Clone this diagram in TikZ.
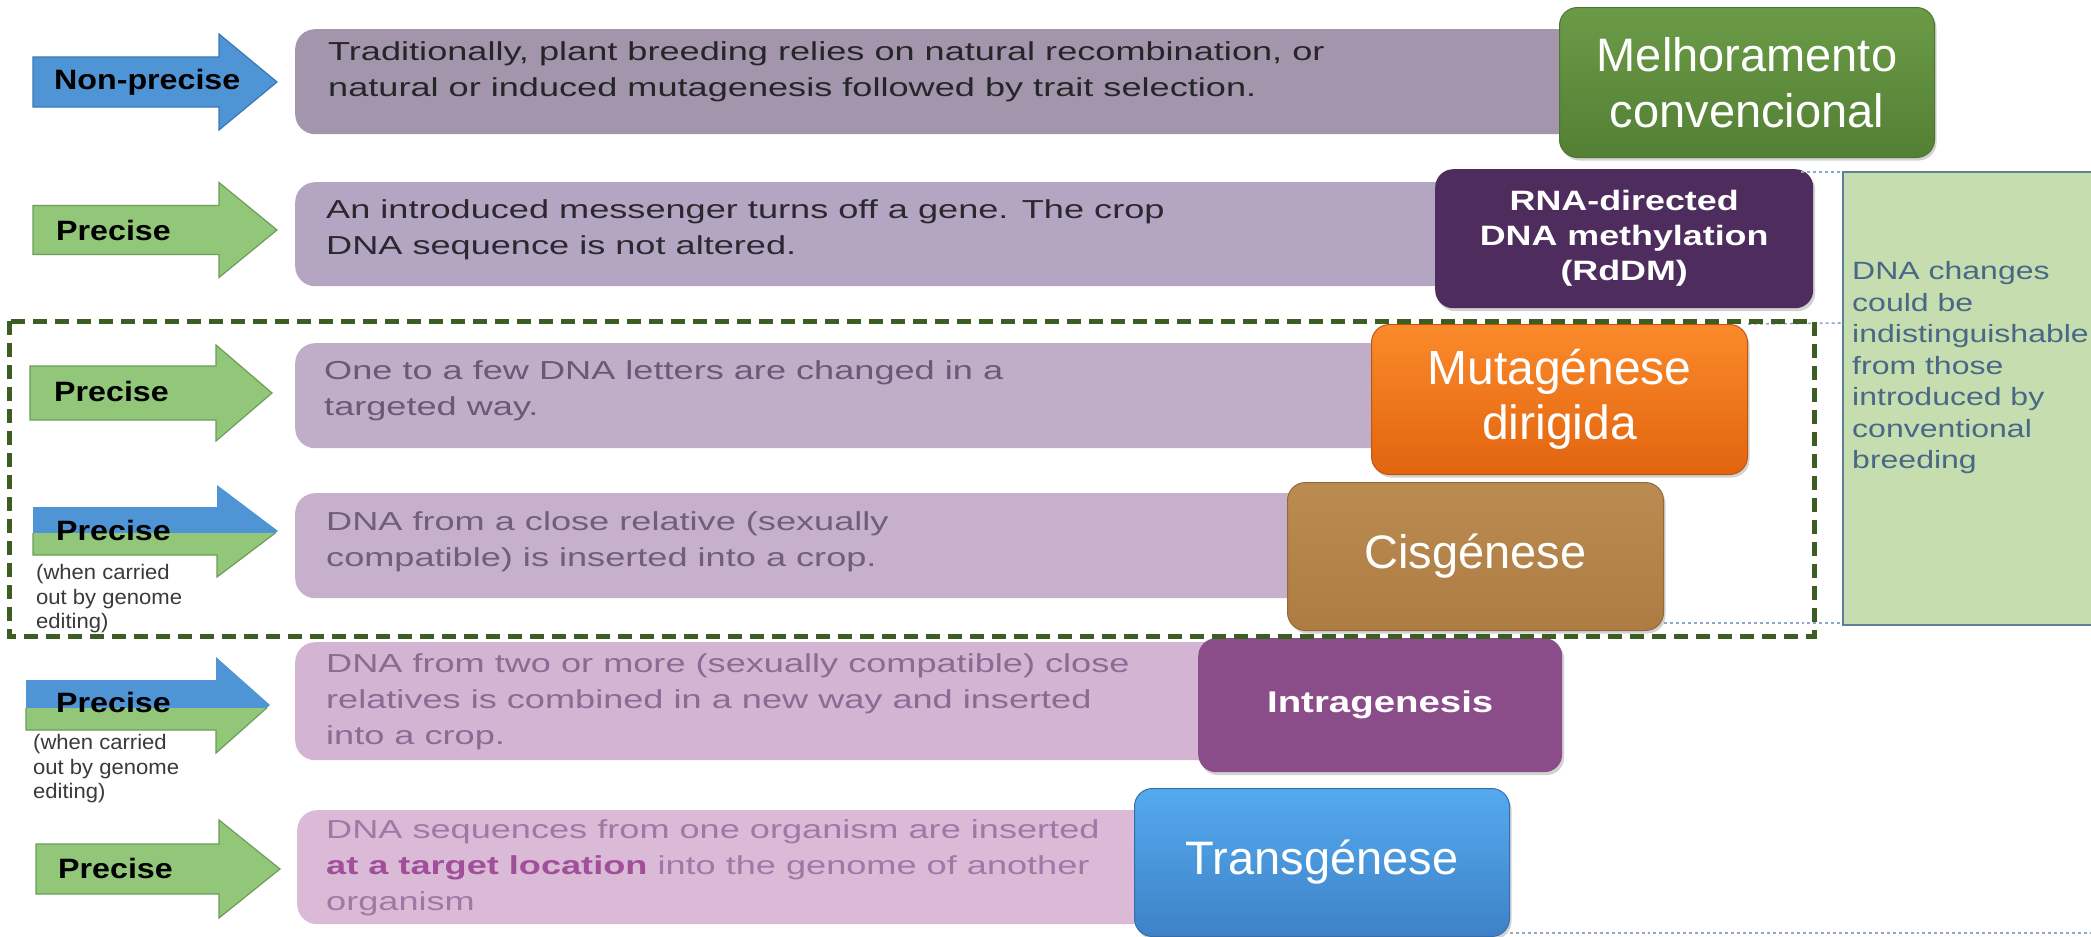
\documentclass[tikz,border=0pt]{standalone}
\usepackage{fontspec}
\setmainfont{Liberation Sans}
\newfontfamily\stfont[FakeStretch=1.39]{Liberation Sans}
\newfontfamily\mdfont[FakeStretch=1.28]{Liberation Sans}
\newfontfamily\arfont[FakeStretch=1.15]{Liberation Sans}
\newfontfamily\smfont[FakeStretch=1.05]{Liberation Sans}
\usetikzlibrary{shadows,calc}
\definecolor{boxA}{HTML}{A396AC}
\definecolor{boxB}{HTML}{B4A6C2}
\definecolor{boxC}{HTML}{C0ADC8}
\definecolor{boxD}{HTML}{C6B0CC}
\definecolor{boxE}{HTML}{D3B5D3}
\definecolor{boxF}{HTML}{DBBAD8}
\definecolor{txtA}{HTML}{262629}
\definecolor{txtB}{HTML}{2B2830}
\definecolor{txtC}{HTML}{6A5876}
\definecolor{txtD}{HTML}{725D7D}
\definecolor{txtE}{HTML}{8C6A93}
\definecolor{txtF}{HTML}{A078A5}
\definecolor{txtFb}{HTML}{A04F98}
\definecolor{smtxt}{HTML}{3A3A3A}
\definecolor{arblue}{HTML}{4F94D5}
\definecolor{arblueD}{HTML}{3A78B5}
\definecolor{argreen}{HTML}{92C77A}
\definecolor{argreenD}{HTML}{6C9E58}
\definecolor{dgreen}{HTML}{3C5E23}
\definecolor{infofill}{HTML}{C6DDB0}
\definecolor{infoline}{HTML}{5D7F98}
\definecolor{infotxt}{HTML}{486886}
\definecolor{dashblue}{HTML}{90A8C2}
\definecolor{melT}{HTML}{6B9B47}
\definecolor{melB}{HTML}{537F34}
\definecolor{melD}{HTML}{4C7530}
\definecolor{rddm}{HTML}{4E2D5E}
\definecolor{mutT}{HTML}{FB8A2B}
\definecolor{mutB}{HTML}{E2640F}
\definecolor{cisT}{HTML}{BC8B51}
\definecolor{cisB}{HTML}{AD7C43}
\definecolor{intra}{HTML}{8B4D8A}
\definecolor{traT}{HTML}{55AAF0}
\definecolor{traB}{HTML}{3E82C6}
\newcommand\arrowshape[6]{(#1,#4-#5) -- (#2,#4-#5) -- (#2,#4-#6) -- (#3,#4) -- (#2,#4+#6) -- (#2,#4+#5) -- (#1,#4+#5) -- cycle}
\tikzset{
  tbox/.style={rounded corners=20bp, inner sep=0pt, anchor=north west, draw=none},
  ttext/.style={anchor=west, align=left, inner sep=0pt, font=\stfont\fontsize{26bp}{36bp}\selectfont},
  alabel/.style={anchor=west, inner sep=0pt, font=\arfont\bfseries\fontsize{28bp}{30bp}\selectfont, text=black},
  asmall/.style={anchor=west, align=left, inner sep=0pt, font=\smfont\fontsize{21bp}{24.5bp}\selectfont, text=smtxt},
  lbox/.style={rounded corners=18bp, inner sep=0pt, anchor=north west, align=center, text=white,
    drop shadow={shadow xshift=2bp, shadow yshift=-3bp, opacity=0.35}},
  bigtxt/.style={font=\fontsize{47bp}{56bp}\selectfont},
  boldtxt/.style={font=\mdfont\bfseries\fontsize{28bp}{35bp}\selectfont},
  guide/.style={dashblue, dashed, line width=1.6bp},
}
\begin{document}
\begin{tikzpicture}[x=1bp, y=-1bp]
\useasboundingbox (0,0) rectangle (2091,937);
\fill[white] (0,0) rectangle (2091,937);

% text boxes
\node[tbox, fill=boxA, minimum width=1305bp, minimum height=105bp] (b1) at (295,29) {};
\node[tbox, fill=boxB, minimum width=1185bp, minimum height=104bp] (b2) at (295,182) {};
\node[tbox, fill=boxC, minimum width=1125bp, minimum height=105bp] (b3) at (295,343) {};
\node[tbox, fill=boxD, minimum width=1035bp, minimum height=105bp] (b4) at (295,493) {};
\node[tbox, fill=boxE, minimum width=945bp, minimum height=118bp] (b5) at (295,642) {};
\node[tbox, fill=boxF, minimum width=885bp, minimum height=114bp] (b6) at (297,810) {};

\node[ttext, text=txtA] (t1) at (328,72) {Traditionally, plant breeding relies on natural recombination, or\\natural or induced mutagenesis followed by trait selection.};
\node[ttext, text=txtB] (t2) at (326,230) {An introduced messenger turns off a gene. The crop\\DNA sequence is not altered.};
\node[ttext, text=txtC] (t3) at (324,391) {One to a few DNA letters are changed in a\\targeted way.};
\node[ttext, text=txtD] (t4) at (326,542) {DNA from a close relative (sexually\\compatible) is inserted into a crop.};
\node[ttext, text=txtE] (t5) at (326,702) {DNA from two or more (sexually compatible) close\\relatives is combined in a new way and inserted\\into a crop.};
\node[ttext, text=txtF] (t6) at (326,868) {DNA sequences from one organism are inserted\\{\color{txtFb}\bfseries at a target location} into the genome of another\\organism};

% arrows
\fill[arblue] \arrowshape{33}{219}{277}{82}{25}{48};
\draw[arblueD, line width=1.2bp] \arrowshape{33}{219}{277}{82}{25}{48};
\fill[argreen] \arrowshape{33}{219}{277}{230}{24.5}{47.5};
\draw[argreenD, line width=1.2bp] \arrowshape{33}{219}{277}{230}{24.5}{47.5};
\fill[argreen] \arrowshape{30}{216}{272}{393}{27}{48};
\draw[argreenD, line width=1.2bp] \arrowshape{30}{216}{272}{393}{27}{48};
% split arrow 4
\begin{scope}
\clip (0,400) rectangle (300,533);
\fill[arblue] \arrowshape{33}{217}{278}{531}{24}{46};
\end{scope}
\begin{scope}
\clip (0,533) rectangle (300,620);
\fill[argreen] \arrowshape{33}{217}{278}{531}{24}{46};
\draw[argreenD, line width=1.2bp] \arrowshape{33}{217}{278}{531}{24}{46};
\end{scope}
% split arrow 5
\begin{scope}
\clip (0,640) rectangle (300,708);
\fill[arblue] \arrowshape{26}{216}{270}{705}{25}{48};
\end{scope}
\begin{scope}
\clip (0,708) rectangle (300,790);
\fill[argreen] \arrowshape{26}{216}{270}{705}{25}{48};
\draw[argreenD, line width=1.2bp] \arrowshape{26}{216}{270}{705}{25}{48};
\end{scope}
\fill[argreen] \arrowshape{36}{219}{280}{869}{25}{49};
\draw[argreenD, line width=1.2bp] \arrowshape{36}{219}{280}{869}{25}{49};

\node[alabel] (a1) at (54,82) {Non-precise};
\node[alabel] (a2) at (56,230) {Precise};
\node[alabel] (a3) at (54,391) {Precise};
\node[alabel] (a4) at (56,530) {Precise};
\node[asmall] (s4) at (36,599) {(when carried\\out by genome\\editing)};
\node[alabel] (a5) at (56,702) {Precise};
\node[asmall] (s5) at (33,769) {(when carried\\out by genome\\editing)};
\node[alabel] (a6) at (58,868) {Precise};

% info box
\fill[infofill] (1843,172) rectangle (2091,625);
\draw[infoline, line width=1.5bp] (2091,172) -- (1843,172) -- (1843,625) -- (2091,625);
\coordinate (iTL) at (1843,172);
\coordinate (iML) at (1843,323);
\coordinate (iBL) at (1843,623);
\coordinate (rEnd) at (2091,933);
\node[anchor=west, align=left, inner sep=0pt, text=infotxt, font=\mdfont\fontsize{25bp}{31.5bp}\selectfont] (info) at (1852,368)
  {DNA changes\\could be\\indistinguishable\\from those\\introduced by\\conventional\\breeding};

% label boxes
\node[lbox, top color=melT, bottom color=melB, draw=melD, line width=1bp, minimum width=375bp, minimum height=150bp, bigtxt] (mel) at (1559,7) {Melhoramento\\convencional};
\node[lbox, fill=rddm, minimum width=378bp, minimum height=139bp, boldtxt, drop shadow={opacity=0}] (rd) at (1435,169) {RNA-directed\\DNA methylation\\(RdDM)};
\node[lbox, top color=mutT, bottom color=mutB, draw=mutB!85!black, line width=1bp, minimum width=376bp, minimum height=150bp, font=\fontsize{48bp}{55bp}\selectfont] (mut) at (1371,324) {Mutagénese\\dirigida};
\node[lbox, top color=cisT, bottom color=cisB, draw=cisB!85!black, line width=1bp, minimum width=376bp, minimum height=148bp, bigtxt] (cis) at (1287,482) {Cisgénese};
\node[lbox, fill=intra, minimum width=364bp, minimum height=134bp, font=\mdfont\bfseries\fontsize{30bp}{36bp}\selectfont, drop shadow={opacity=0}] (intra) at (1198,638) {Intragenesis};
\node[lbox, top color=traT, bottom color=traB, draw=traB!85!black, line width=1bp, minimum width=375bp, minimum height=148bp, bigtxt] (tra) at (1134,788) {Transgénese};

% guide lines
\draw[guide] (rd.north east |- iTL) ++(-12,0) -- (iTL);
\draw[guide] (mut.north east) -- (iML);
\draw[guide] (cis.east |- iBL) -- (iBL);
\draw[guide] (tra.east |- rEnd) -- (rEnd);

% dashed group frame
\draw[dgreen, line width=5bp, dash pattern=on 14bp off 8bp] (9,321) rectangle (1814,636);
\end{tikzpicture}
\end{document}
